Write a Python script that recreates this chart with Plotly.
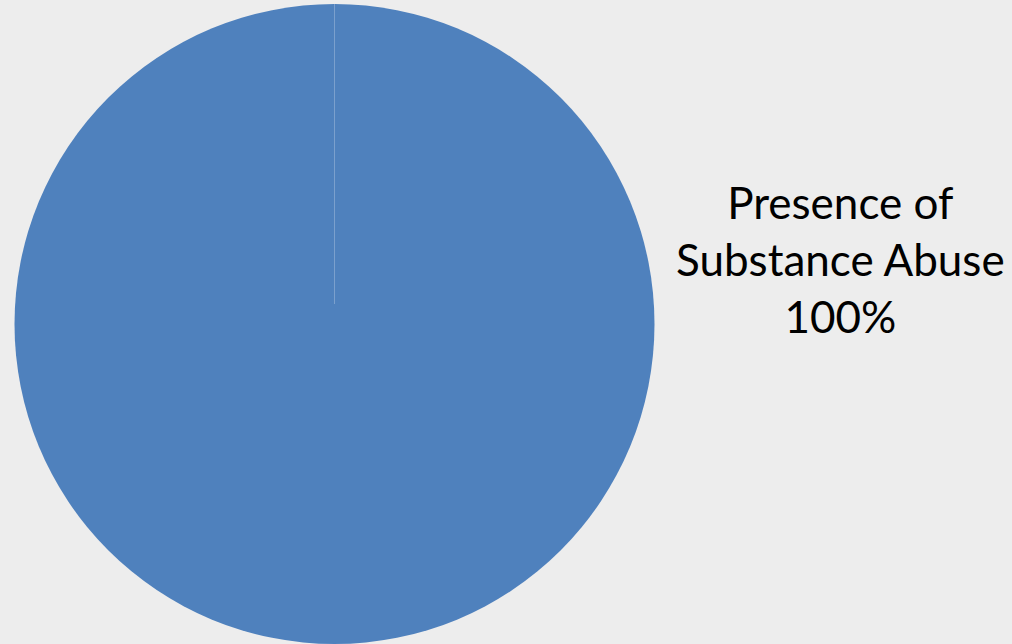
import plotly.graph_objects as go

labels = ["Presence of<br>Substance Abuse"]
values = [100]
colors = ["#4F81BD"]

W, H = 1012, 644
cx, cy, r = 334.5, 324, 320

fig = go.Figure()
fig.add_trace(go.Pie(
    labels=labels, values=values, sort=False, direction="clockwise", rotation=0,
    marker=dict(colors=colors, line=dict(width=0)),
    textinfo="none", hoverinfo="label+percent", showlegend=False,
    domain=dict(x=[(cx - r) / W, (cx + r) / W], y=[(H - cy - r) / H, (H - cy + r) / H]),
))

total = sum(values)
fig.add_annotation(
    x=840 / W, y=1 - 259 / H, xref="paper", yref="paper",
    text=f"{labels[0]}<br>{values[0] / total:.0%}", showarrow=False,
    font=dict(family="Lato, Carlito, sans-serif", size=44, color="#000000"),
    align="center", xanchor="center", yanchor="middle",
)
# faint slice seam from centre to top
fig.add_shape(type="line", xref="paper", yref="paper",
              x0=cx / W, x1=cx / W, y0=1 - (cy - 20) / H, y1=1 - (cy - r) / H,
              line=dict(color="rgba(255,255,255,0.25)", width=1))

fig.update_layout(
    width=W, height=H, margin=dict(l=0, r=0, t=0, b=0),
    paper_bgcolor="#EDEDED", plot_bgcolor="#EDEDED",
)
fig.write_html("out.html", config={"displayModeBar": False},
               post_script="document.body.style.margin='0';document.body.style.overflow='hidden';")
